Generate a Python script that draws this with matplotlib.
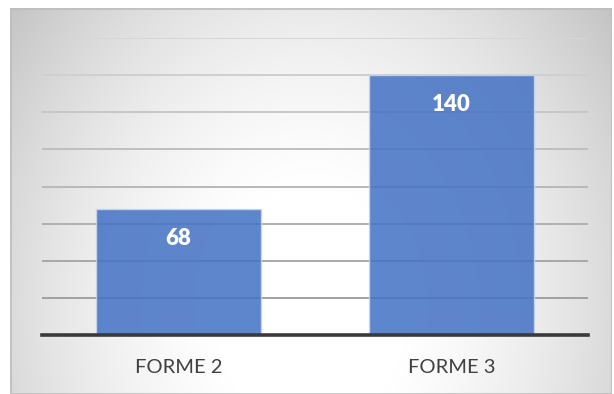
import numpy as np
import matplotlib.pyplot as plt
from matplotlib.patches import Rectangle

# valeurs du graphique
categories = ['FORME 2', 'FORME 3']
valeurs = [68, 140]

W, H = 614, 394
fig = plt.figure(figsize=(W / 100, H / 100), dpi=100)
fig.patch.set_facecolor('white')

# fond en dégradé radial (blanc vers le bas du centre, gris sur les bords)
bx0, by0, bw, bh = 10, 8, 602, 386
bg = fig.add_axes([bx0 / W, 0, bw / W, bh / H])
yy, xx = np.mgrid[0:bh, 0:bw]
d = np.sqrt(((xx - 300) / 300.0) ** 2 + ((yy - 300) / 380.0) ** 2)
g = np.clip(1.02 - 0.16 * d ** 1.85, 0, 1)
bg.imshow(np.dstack([g, g, g]), aspect='auto', interpolation='bilinear')
bg.add_patch(Rectangle((0, 0), bw - 1, bh - 1, fill=False,
                       edgecolor='#bdbdbd', linewidth=1.2))
bg.axis('off')

ax = fig.add_axes([42 / W, (H - 335) / H, 546 / W, 297 / H])
ax.set_facecolor('none')

x = np.arange(len(categories))
bars = ax.bar(x, valeurs, width=0.605, color='#4472C4', alpha=0.86,
              edgecolor='#c9d6ee', linewidth=1.0, zorder=3)

ax.set_xlim(-0.5, 1.5)
ax.set_ylim(0, 160)

# quadrillage : plus clair en haut, plus foncé en bas
grille = np.arange(20, 161, 20)
gris = np.linspace(0.63, 0.84, len(grille))
for yv, gv in zip(grille, gris):
    ax.axhline(yv, color=(gv, gv, gv), linewidth=1.4, zorder=1)

ax.set_yticks([])
ax.tick_params(axis='x', length=0, pad=17)
ax.set_xticks(x)
ax.set_xticklabels(categories, fontsize=14.5, color='#404040', family='Lato')

for s in ['top', 'right', 'left']:
    ax.spines[s].set_visible(False)
ax.spines['bottom'].set_color('#3a3a3a')
ax.spines['bottom'].set_linewidth(2.6)
ax.spines['bottom'].set_zorder(4)

for b, v in zip(bars, valeurs):
    ax.annotate(str(v), (b.get_x() + b.get_width() / 2, v),
                xytext=(0, -21.5), textcoords='offset points',
                ha='center', va='center', color='white',
                fontsize=16, fontweight='heavy', family='Lato', zorder=5)

fig.savefig('out.png', dpi=100)
